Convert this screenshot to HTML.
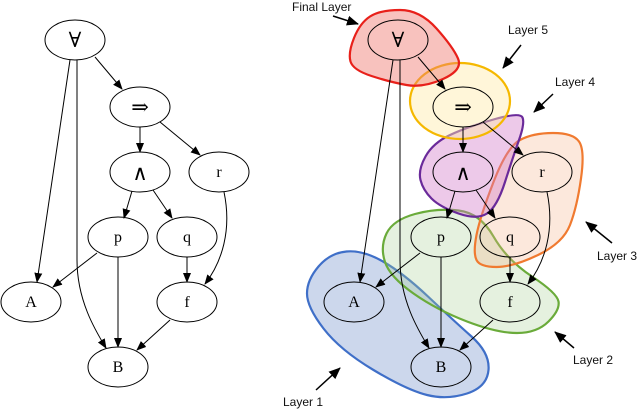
<!DOCTYPE html>
<html><head><meta charset="utf-8"><style>
html,body{margin:0;padding:0;background:#fff;}
svg{display:block;}
.g text{font-family:"Liberation Serif","DejaVu Serif",serif;}
.lbl text{font-family:"Liberation Sans",sans-serif;font-size:12px;fill:#111;}
</style></head><body>
<svg width="640" height="411" viewBox="0 0 640 411" xmlns="http://www.w3.org/2000/svg">
<defs>
<marker id="ah" markerWidth="10" markerHeight="8" refX="9" refY="4" orient="auto" markerUnits="userSpaceOnUse">
<path d="M0,0 L10,4 L0,8 z" fill="#000"/></marker>
<marker id="ah2" markerWidth="12" markerHeight="10" refX="11" refY="5" orient="auto" markerUnits="userSpaceOnUse">
<path d="M0,0 L12,5 L0,10 z" fill="#000"/></marker>
<g id="graph" class="g">
<g fill="none" stroke="#000" stroke-width="1" marker-end="url(#ah)">
<path d="M95,57 L122,89"/>
<path d="M70,60 L37,282"/>
<path d="M77,60 L77,260 C77,300 95,330 106,348"/>
<path d="M140,127 L140,152"/>
<path d="M160,122 L200,155"/>
<path d="M132,191 L124,218"/>
<path d="M153,190 L172,218"/>
<path d="M224,192 C232,230 222,262 205,284"/>
<path d="M97,253 L53,287"/>
<path d="M118,257 L118,347"/>
<path d="M187,257 L187,282"/>
<path d="M170,320 L137,350"/>
</g>
<g fill="none" stroke="#000" stroke-width="1">
<ellipse cx="75" cy="40" rx="30" ry="20"/>
<ellipse cx="140" cy="107" rx="30" ry="20"/>
<ellipse cx="140" cy="172" rx="30" ry="20"/>
<ellipse cx="219" cy="172" rx="30" ry="20"/>
<ellipse cx="118" cy="237" rx="30" ry="20"/>
<ellipse cx="187" cy="237" rx="30" ry="20"/>
<ellipse cx="31" cy="302" rx="30" ry="20"/>
<ellipse cx="187" cy="302" rx="30" ry="20"/>
<ellipse cx="118" cy="367" rx="30" ry="20"/>
</g>
<g font-size="16" text-anchor="middle" fill="#000">
<text x="75" y="47" font-size="21">∀</text>
<text x="140" y="114" font-size="21">⇒</text>
<text x="140" y="180" font-size="21">∧</text>
<text x="219" y="177">r</text>
<text x="118" y="242">p</text>
<text x="187" y="242">q</text>
<text x="31" y="307">A</text>
<text x="187" y="307">f</text>
<text x="118" y="372">B</text>
</g>
</g>
</defs>

<use href="#graph"/>

<g stroke-width="2.2">
<path d="M307,293.5 Q307,280 318.5,266.5 Q330,253 346.5,251.5 Q363,250 383,261.5 Q403,273 428,296.5 Q453,320 471.5,336.5 Q490,353 488.5,370 Q487,387 467,393.5 Q447,400 427,395 Q407,390 373.5,370 Q340,350 323.5,328.5 Q307,307 307,293.5Z" fill="rgba(120,150,205,0.38)" stroke="#3f6fc8"/>
<path d="M385,262 Q380,247 386.5,233.5 Q393,220 415,214 Q437,208 458.5,210.5 Q480,213 493.5,236.5 Q507,260 532,276.5 Q557,293 558.5,301.5 Q560,310 548.5,321.5 Q537,333 517,333 Q497,333 467,321.5 Q437,310 413.5,293.5 Q390,277 385,262Z" fill="rgba(170,210,150,0.3)" stroke="#6aab3a"/>
<path d="M476.5,260 Q473,253 476.5,235 Q480,217 493.5,182 Q507,147 520,140 Q533,133 553,133 Q573,133 579,141.5 Q585,150 581,178.5 Q577,207 570,225 Q563,243 538,255 Q513,267 496.5,267 Q480,267 476.5,260Z" fill="rgba(245,180,140,0.3)" stroke="#f07a30"/>
<path d="M420.5,180 Q418,170 425.5,156.5 Q433,143 450,135 Q467,127 493.5,119.5 Q520,112 522.5,117.5 Q525,123 519,140 Q513,157 505,182 Q497,207 487,213.5 Q477,220 458.5,213.5 Q440,207 431.5,198.5 Q423,190 420.5,180Z" fill="rgba(210,120,200,0.4)" stroke="#6a2a9a"/>
<ellipse cx="460" cy="101" rx="50" ry="38" fill="rgba(255,235,170,0.45)" stroke="#f5b800"/>
<path d="M350.5,61.5 Q348,53 354,38 Q360,23 370,16.5 Q380,10 400,10 Q420,10 436.5,28.5 Q453,47 458,58.5 Q463,70 443,79 Q423,88 406.5,85 Q390,82 371.5,76 Q353,70 350.5,61.5Z" fill="rgba(240,120,110,0.45)" stroke="#e8201a"/>
</g>
<use href="#graph" transform="translate(323,0)"/>

<g class="lbl">
<text x="292" y="11">Final Layer</text>
<text x="508" y="34">Layer 5</text>
<text x="555" y="86">Layer 4</text>
<text x="597" y="260">Layer 3</text>
<text x="573" y="364">Layer 2</text>
<text x="283" y="406">Layer 1</text>
</g>
<g stroke="#000" stroke-width="1.5" marker-end="url(#ah2)">
<line x1="333" y1="16" x2="358" y2="24"/>
<line x1="521" y1="45" x2="503" y2="68"/>
<line x1="553" y1="94" x2="534" y2="112"/>
<line x1="612" y1="243" x2="586" y2="222"/>
<line x1="574" y1="348" x2="555" y2="332"/>
<line x1="316" y1="390" x2="340" y2="368"/>
</g>
</svg>
</body></html>
